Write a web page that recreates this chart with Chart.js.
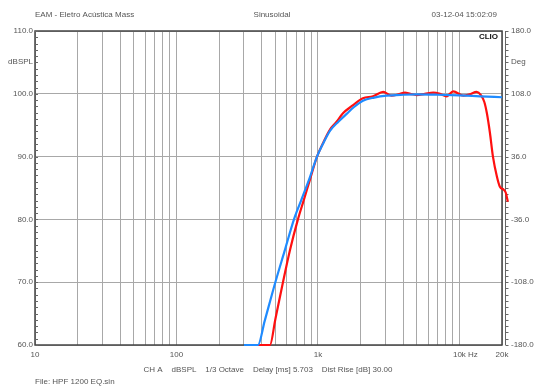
<!DOCTYPE html>
<html>
<head>
<meta charset="utf-8">
<script src="https://cdn.jsdelivr.net/npm/chart.js@4.4.0/dist/chart.umd.min.js"></script>
<style>
  html, body { margin: 0; padding: 0; background: #fff; }
  #wrap { width: 537px; height: 387px; }
</style>
</head>
<body>
<div id="wrap"><canvas id="clioChart" width="537" height="387"></canvas></div>
<script>
// grid / tick values
const xGridValues = [10, 20, 30, 40, 50, 60, 70, 80, 90, 100, 200, 300, 400, 500, 600, 700, 800, 900,
  1000, 2000, 3000, 4000, 5000, 6000, 7000, 8000, 9000, 10000, 20000];
const xLabelValues = [10, 100, 1000, 10000, 20000];
const xLabelTexts = ["10", "100", "1k", "10k", "20k"];
const yLeftTicks = [60, 70, 80, 90, 100, 110];
const yRightTicks = [-180, -108, -36, 36, 108, 180];

// blue trace (target / simulated)
const blueFreq = [300, 377, 420, 500, 580, 677, 760, 864, 985, 1100, 1216, 1400, 1596, 1800, 2080, 2500,
  3055, 4000, 5000, 7000, 10000, 14000, 20000];
const blueDb = [60, 60, 63.8, 70, 74.9, 80, 83, 86.3, 90, 92.3, 94.1, 95.6, 96.8, 97.9, 98.9, 99.4,
  99.7, 99.85, 99.9, 99.85, 99.75, 99.6, 99.45];

// red trace (measured)
const redFreq = [377, 458, 500, 566, 634, 722, 800, 877, 985, 1100, 1216, 1350, 1503, 1750, 2080, 2450,
  2892, 3318, 3700, 4120, 4500, 4980, 5700, 6530, 7300, 8120, 9040, 10640, 11800, 13240, 14190, 15000,
  15640, 16430, 17260, 18420, 19330, 20620, 21300, 22000];
const redDb = [60, 60, 64.1, 70, 75.1, 80, 83.3, 86.3, 90, 92.4, 94.3, 95.5, 96.9, 98.1, 99.3, 99.6,
  100.3, 99.7, 99.9, 100.2, 100, 99.8, 100, 100.2, 100, 99.6, 100.4, 99.7, 99.9, 100.3, 99.8, 98.7,
  96.9, 93.8, 90, 86.8, 85.2, 84.7, 84.2, 82.8];

const FONT = "'Liberation Sans', Arial, sans-serif";
const TEXT_COLOR = "#555";

function toPoints(xs, ys) {
  return xs.map((x, i) => ({ x: x, y: ys[i] }));
}

const clioDecor = {
  id: "clioDecor",
  beforeDatasetsDraw(chart) {
    const { ctx, chartArea: a } = chart;
    const y = chart.scales.y;
    ctx.save();
    ctx.strokeStyle = "#444";
    ctx.lineWidth = 1.5;
    ctx.strokeRect(a.left, a.top, a.right - a.left, a.bottom - a.top);

    // minor ticks, left axis (inside) and the detached right axis
    ctx.lineWidth = 1;
    ctx.strokeStyle = "#666";
    ctx.beginPath();
    const rx = a.right + 3.5;
    ctx.moveTo(rx, a.top);
    ctx.lineTo(rx, a.bottom);
    for (let v = 60; v <= 110; v++) {
      const py = Math.round(y.getPixelForValue(v)) + 0.5;
      ctx.moveTo(a.left, py);
      ctx.lineTo(a.left + 3, py);
      ctx.moveTo(rx, py);
      ctx.lineTo(rx + 3, py);
    }
    ctx.stroke();
    ctx.restore();
  },
  afterDraw(chart) {
    const { ctx, chartArea: a } = chart;
    ctx.save();
    ctx.fillStyle = TEXT_COLOR;
    ctx.font = "8px " + FONT;
    ctx.textBaseline = "middle";

    ctx.textAlign = "left";
    ctx.fillText("EAM - Eletro Acústica Mass", 35, 15);
    ctx.fillText("File: HPF 1200 EQ.sin", 35, 382);
    ctx.fillText("Deg", 511, 62);
    ctx.fillText("Hz", 468, 355);

    ctx.textAlign = "center";
    ctx.fillText("Sinusoidal", 272, 15);
    ctx.fillText("CH A    dBSPL    1/3 Octave    Delay [ms] 5.703    Dist Rise [dB] 30.00", 268, 370);

    ctx.textAlign = "right";
    ctx.fillText("03-12-04 15:02:09", 497, 15);
    ctx.fillText("dBSPL", 33, 62);

    ctx.fillStyle = "#111";
    ctx.font = "bold 8px " + FONT;
    ctx.fillText("CLIO", a.right - 4, 37);
    ctx.restore();
  },
};

new Chart(document.getElementById("clioChart").getContext("2d"), {
  type: "line",
  data: {
    datasets: [
      {
        label: "Simulated",
        data: toPoints(blueFreq, blueDb),
        borderColor: "#1f8bff",
        borderWidth: 2.2,
        pointRadius: 0,
        cubicInterpolationMode: "monotone",
        clip: { left: 0, top: 0, right: 8, bottom: 3 },
        order: 0,
      },
      {
        label: "Measured",
        data: toPoints(redFreq, redDb),
        borderColor: "#ff1010",
        borderWidth: 2.2,
        pointRadius: 0,
        cubicInterpolationMode: "monotone",
        clip: { left: 0, top: 0, right: 8, bottom: 3 },
        order: 1,
      },
    ],
  },
  options: {
    responsive: false,
    animation: false,
    devicePixelRatio: 1,
    layout: { padding: { top: 31, left: 0, right: 0, bottom: 0 } },
    plugins: { legend: { display: false }, tooltip: { enabled: false } },
    scales: {
      x: {
        type: "logarithmic",
        // range set after data limits so points past 20k are still drawn
        afterDataLimits: (scale) => {
          scale.min = 10;
          scale.max = 20000;
        },
        afterBuildTicks: (scale) => {
          scale.ticks = xGridValues.map((v) => ({ value: v }));
        },
        afterFit: (scale) => {
          scale.height = 42;
        },
        ticks: {
          autoSkip: false,
          maxRotation: 0,
          padding: 5,
          color: TEXT_COLOR,
          font: { family: FONT, size: 8 },
          callback: (value) => {
            const i = xLabelValues.indexOf(value);
            return i >= 0 ? xLabelTexts[i] : "";
          },
        },
        grid: { color: "#a8a8a8", lineWidth: 1, drawTicks: false },
        border: { display: false },
      },
      y: {
        position: "left",
        min: 60,
        max: 110,
        afterBuildTicks: (scale) => {
          scale.ticks = yLeftTicks.map((v) => ({ value: v }));
        },
        afterFit: (scale) => {
          scale.width = 35;
        },
        ticks: {
          padding: 2,
          color: TEXT_COLOR,
          font: { family: FONT, size: 8 },
          callback: (value) => Number(value).toFixed(1),
        },
        grid: { color: "#a8a8a8", lineWidth: 1, drawTicks: false },
        border: { display: false },
      },
      y2: {
        position: "right",
        min: -180,
        max: 180,
        afterBuildTicks: (scale) => {
          scale.ticks = yRightTicks.map((v) => ({ value: v }));
        },
        afterFit: (scale) => {
          scale.width = 35;
        },
        ticks: {
          padding: 9,
          color: TEXT_COLOR,
          font: { family: FONT, size: 8 },
          callback: (value) => Number(value).toFixed(1),
        },
        grid: { display: false, drawTicks: false },
        border: { display: false },
      },
    },
  },
  plugins: [clioDecor],
});
</script>
</body>
</html>
